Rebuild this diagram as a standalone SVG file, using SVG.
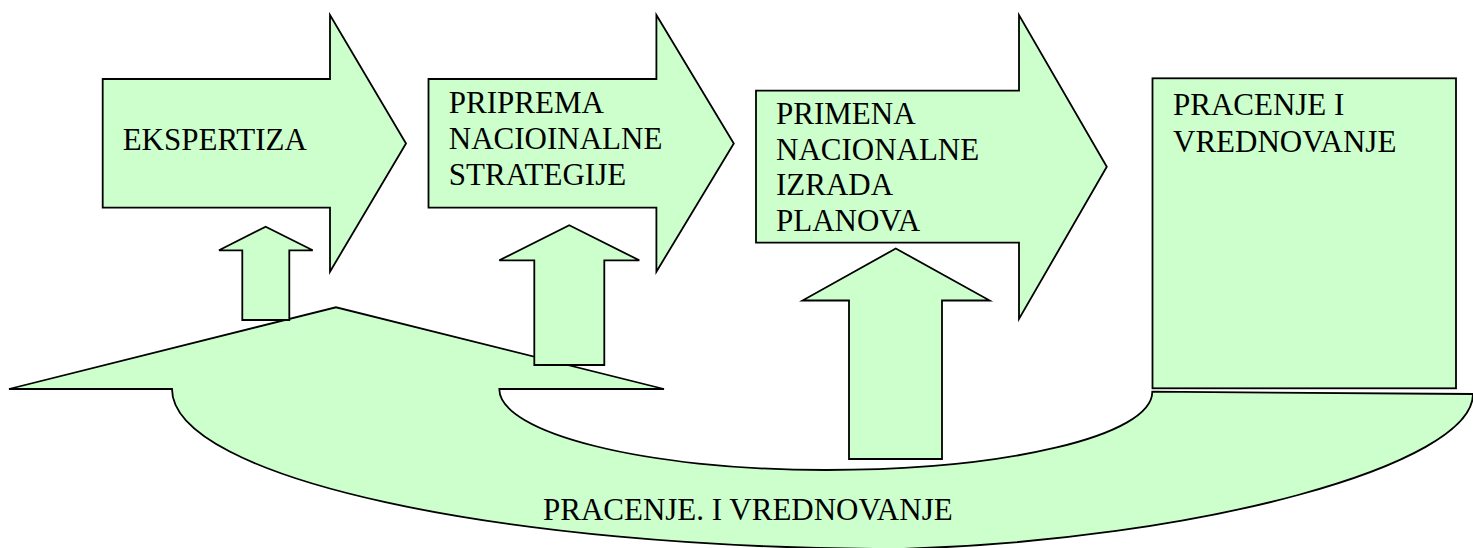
<svg xmlns="http://www.w3.org/2000/svg" width="1473" height="548" viewBox="0 0 1473 548">
<style>
.shape{fill:#CCFFCC;stroke:#000;stroke-width:1.8;stroke-linejoin:miter}
.lbl{font-family:"Liberation Serif","Times New Roman",serif;font-size:31px;fill:#000}
</style>
<rect width="1473" height="548" fill="#fff"/>
<g id="node-ekspertiza">
<path class="shape" d="M102.7,79 H330 V15 L406,143.5 L330,271.7 V207.7 H102.7 Z"/>
<text class="lbl" x="122.7" y="150">EKSPERTIZA</text>
</g>
<g id="node-priprema">
<path class="shape" d="M428.5,79 H656.4 V15 L733.8,143.5 L656.4,271.7 V207.7 H428.5 Z"/>
<text class="lbl" x="448.8" y="112.7">PRIPREMA</text>
<text class="lbl" x="448.8" y="149">NACIOINALNE</text>
<text class="lbl" x="448.8" y="185">STRATEGIJE</text>
</g>
<g id="node-primena">
<path class="shape" d="M756,90.7 H1019 V15 L1106.8,166.7 L1019,319 V242.7 H756 Z"/>
<text class="lbl" x="776" y="124">PRIMENA</text>
<text class="lbl" x="776" y="159.5">NACIONALNE</text>
<text class="lbl" x="776" y="195">IZRADA</text>
<text class="lbl" x="776" y="231">PLANOVA</text>
</g>
<g id="node-pracenje">
<rect class="shape" x="1152.5" y="78.3" width="303.5" height="310"/>
<text class="lbl" x="1173" y="115">PRACENJE I</text>
<text class="lbl" x="1173" y="151.7">VREDNOVANJE</text>
</g>
<g id="connectors">
<g id="feedback-arrow">
<path class="shape" d="M9,389 L336,307.3 L664,389 H499.3 C499.3,433 645,470 826,470 C1006,470 1152.3,436 1152.3,391.7 L1473,394 C1473,465 1200,540 900,549 C498,549 172,477.4 172,389 Z"/>
<text class="lbl" x="543" y="520">PRACENJE. I VREDNOVANJE</text>
</g>
<path id="up-arrow-1" class="shape" d="M265.7,226.7 L312.7,250.3 H289.3 V320 H242.3 V250.3 H219 Z"/>
<path id="up-arrow-2" class="shape" d="M569.3,225.3 L639.3,260.3 H604.3 V365 H534.3 V260.3 H499.3 Z"/>
<path id="up-arrow-3" class="shape" d="M895.8,248.5 L989.7,300.5 H942 V459 H849 V300.5 H802.5 Z"/>
</g>
</svg>
